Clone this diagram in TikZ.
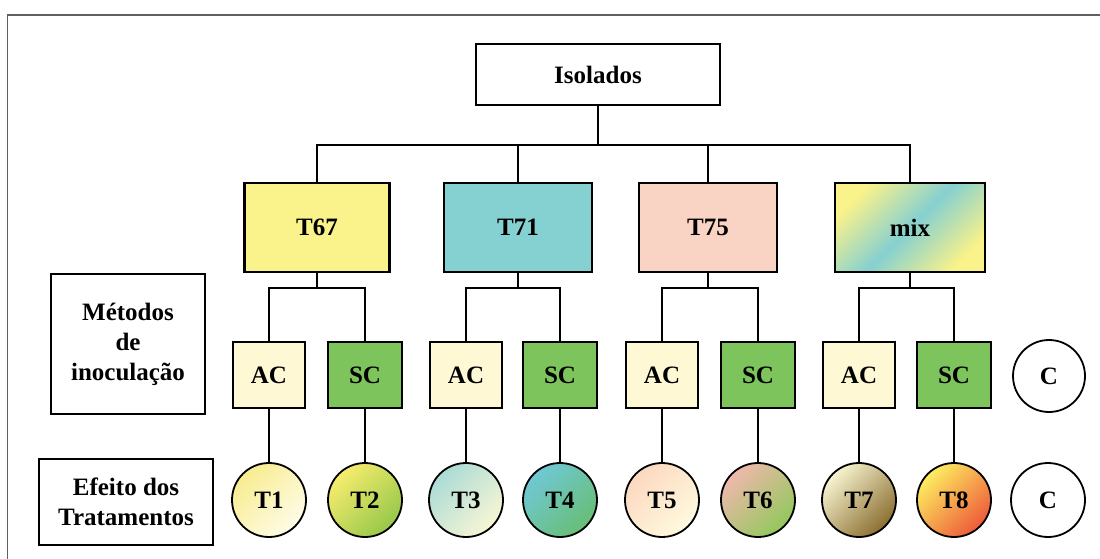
\documentclass[tikz,border=0pt]{standalone}
\usepackage{fontspec}
\setmainfont{Liberation Serif}
\definecolor{cT67}{HTML}{FAF28A}
\definecolor{cT71}{HTML}{85D0D0}
\definecolor{cT75}{HTML}{F9D4C4}
\definecolor{cAC}{HTML}{FEF8D5}
\definecolor{cSC}{HTML}{7EC45C}
\definecolor{frameg}{HTML}{606060}
\definecolor{a1}{HTML}{F8EC90}\definecolor{b1}{HTML}{FEFCE8}
\definecolor{a2}{HTML}{F7EC6E}\definecolor{b2}{HTML}{96C84A}
\definecolor{a3}{HTML}{ABDBD6}\definecolor{b3}{HTML}{F8F6D4}
\definecolor{a4}{HTML}{70C8D6}\definecolor{b4}{HTML}{68BE74}
\definecolor{a5}{HTML}{FCD8C0}\definecolor{b5}{HTML}{FEFADE}
\definecolor{a6}{HTML}{EFB8AC}\definecolor{b6}{HTML}{92C85C}
\definecolor{a7}{HTML}{F8F4D0}\definecolor{b7}{HTML}{8A6E30}
\definecolor{a8}{HTML}{FDEE60}\definecolor{b8}{HTML}{EE5A3A}
\tikzset{
  every node/.style={font=\fontsize{25}{30}\selectfont\bfseries, align=center},
  box/.style={draw=black, line width=2.2pt, rectangle, inner sep=0pt},
  topbox/.style={box, minimum height=89pt},
  acbox/.style={box, fill=cAC, minimum width=72pt, minimum height=66pt, line width=2pt},
  scbox/.style={box, fill=cSC, minimum width=74pt, minimum height=66pt, line width=2pt},
  tcirc/.style={draw=black, line width=1.8pt, circle, minimum size=74pt, inner sep=0pt},
  conn/.style={draw=black, line width=2pt},
  thinconn/.style={draw=black, line width=1.6pt},
}
\begin{document}
\begin{tikzpicture}[x=1pt,y=-1pt]
\useasboundingbox (0,0) rectangle (1100,559);
\fill[white] (0,0) rectangle (1100,559);
\draw[frameg, line width=1.2pt] (7.5,559) -- (7.5,15) -- (1100,15);

% top
\node[box, line width=2pt, minimum width=244pt, minimum height=61pt] (iso) at (598,75) {Isolados};
\node[topbox, fill=cT67, minimum width=145pt] (t67) at (317,227.5) {T67};
\node[topbox, fill=cT71, minimum width=148pt] (t71) at (518,227.5) {T71};
\node[topbox, fill=cT75, minimum width=138pt] (t75) at (708,227.5) {T75};
\node[topbox, top color=cT67, bottom color=cT67, middle color=cT71, shading angle=45, minimum width=150pt] (mix) at (910,227.5) {mix};

\coordinate (bar1) at (0,145);
\draw[conn] (iso.south) -- (iso.south |- bar1);
\draw[conn, line cap=rect] (t67.north |- bar1) -- (mix.north |- bar1);
\foreach \n in {t67,t71,t75,mix} \draw[conn] (\n.north) -- (\n.north |- bar1);

% left labels
\node[box, minimum width=154pt, minimum height=140pt] (met) at (128,344) {Métodos\\de\\inoculação};
\node[box, minimum width=174pt, minimum height=86pt] (efe) at (126,502) {Efeito dos\\Tratamentos};

% methods
\node[acbox] (ac1) at (269,375) {AC};
\node[scbox] (sc1) at (365,375) {SC};
\node[acbox] (ac2) at (466,375) {AC};
\node[scbox] (sc2) at (560,375) {SC};
\node[acbox] (ac3) at (662,375) {AC};
\node[scbox] (sc3) at (758,375) {SC};
\node[acbox] (ac4) at (859,375) {AC};
\node[scbox] (sc4) at (954,375) {SC};
\node[draw=black, line width=1.8pt, circle, minimum size=72pt, inner sep=0pt, fill=white] (c1) at (1049,376) {C};

\coordinate (bar2) at (0,288);
\foreach \g/\i in {t67/1,t71/2,t75/3,mix/4} {
  \draw[thinconn] (\g.south) -- (\g.south |- bar2);
  \draw[thinconn] (ac\i.north) |- (sc\i.north |- bar2) -- (sc\i.north);
}

% treatments
\node[tcirc, top color=a1, bottom color=b1, shading angle=45] (tr1) at (269,500) {T1};
\node[tcirc, top color=a2, bottom color=b2, shading angle=45] (tr2) at (365,500) {T2};
\node[tcirc, top color=a3, bottom color=b3, shading angle=45] (tr3) at (466,500) {T3};
\node[tcirc, top color=a4, bottom color=b4, shading angle=45] (tr4) at (560,500) {T4};
\node[tcirc, top color=a5, bottom color=b5, shading angle=45] (tr5) at (662,500) {T5};
\node[tcirc, top color=a6, bottom color=b6, shading angle=45] (tr6) at (758,500) {T6};
\node[tcirc, top color=a7, bottom color=b7, shading angle=45] (tr7) at (859,500) {T7};
\node[tcirc, top color=a8, bottom color=b8, shading angle=45] (tr8) at (954,500) {T8};
\node[tcirc, fill=white] (c2) at (1048,500) {C};

\foreach \i in {1,...,4} {
  \draw[thinconn] (ac\i.south) -- (tr\the\numexpr2*\i-1\relax.north);
  \draw[thinconn] (sc\i.south) -- (tr\the\numexpr2*\i\relax.north);
}
\end{tikzpicture}
\end{document}
